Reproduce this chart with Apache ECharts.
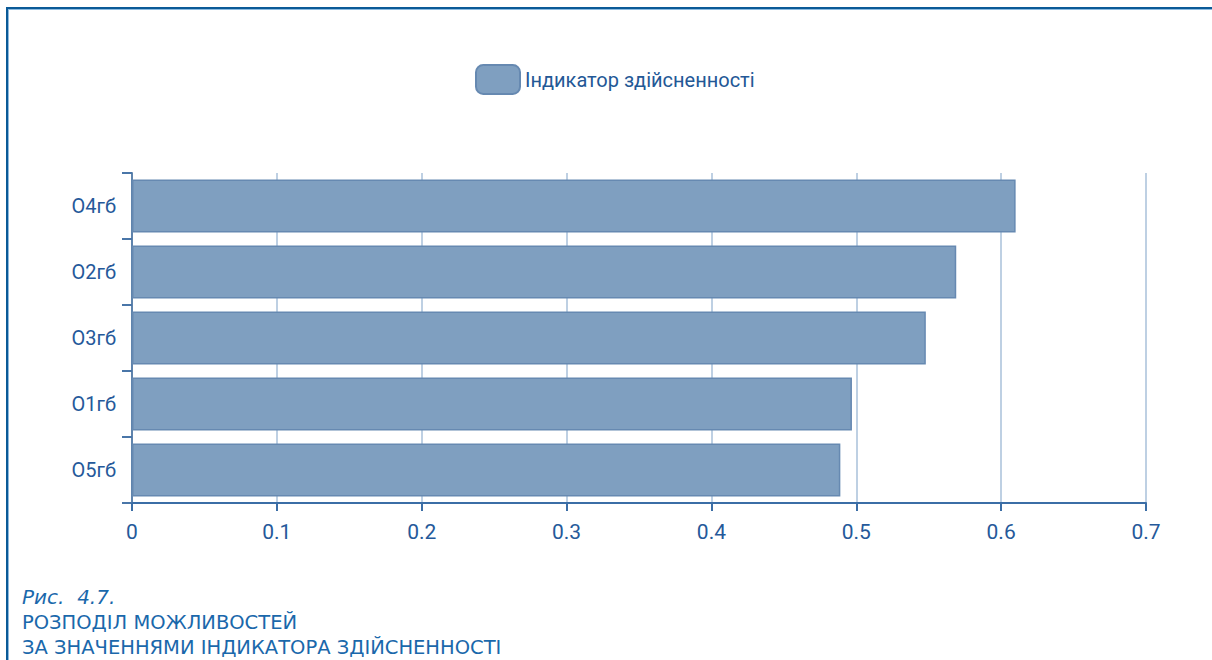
<!DOCTYPE html>
<html>
<head>
<meta charset="utf-8">
<script src="https://cdn.jsdelivr.net/npm/echarts@6/dist/echarts.min.js"></script>
<style>
	html, body { margin: 0; padding: 0; background: #fff; }
	#chart { width: 1212px; height: 660px; }
</style>
</head>
<body>
<div id="chart"></div>
<script>
	// дані
	var categories = ['O4гб', 'O2гб', 'O3гб', 'O1гб', 'O5гб'];
	var values = [0.61, 0.569, 0.548, 0.497, 0.489];
	var seriesName = 'Індикатор здійсненності';
	var xTicks = [0, 0.7, 0.1]; // min, max, interval
	var captionLines = ['Рис.  4.7.', 'РОЗПОДІЛ МОЖЛИВОСТЕЙ', 'ЗА ЗНАЧЕННЯМИ ІНДИКАТОРА ЗДІЙСНЕННОСТІ'];

	var labelFont = 'Roboto, "Liberation Sans", Arial, sans-serif';
	var capFont = '"DejaVu Sans", sans-serif';
	var blue = '#25599a';

	function captionText(str, y, font) {
		return {
			type: 'text',
			x: 22,
			y: y,
			style: { text: str, font: font, fill: '#1a68ab', verticalAlign: 'middle', lineHeight: 22 }
		};
	}

	var option = {
		animation: false,
		backgroundColor: '#fff',
		legend: {
			data: [seriesName],
			left: 470,
			top: 59,
			itemWidth: 44,
			itemHeight: 29,
			itemGap: 6,
			icon: 'roundRect',
			textStyle: {
				fontFamily: labelFont,
				fontSize: 20,
				color: '#235896'
			}
		},
		grid: {
			left: 132,
			right: 66,
			top: 173,
			bottom: 157,
			containLabel: false
		},
		xAxis: {
			type: 'value',
			min: xTicks[0],
			max: xTicks[1],
			interval: xTicks[2],
			axisLine: { show: true, lineStyle: { color: '#3b6ea6', width: 2 } },
			axisTick: { show: true, length: 8, lineStyle: { color: '#3b6ea6', width: 2 } },
			axisLabel: {
				margin: 18,
				fontFamily: labelFont,
				fontSize: 21,
				color: blue
			},
			splitLine: { show: true, lineStyle: { color: '#a9c0da', width: 1.5 } }
		},
		yAxis: {
			type: 'category',
			inverse: true,
			data: categories,
			axisLine: { show: true, lineStyle: { color: '#5f84ad', width: 2 } },
			axisTick: { show: true, length: 10, lineStyle: { color: '#4a76a8', width: 2 } },
			axisLabel: {
				margin: 16,
				fontFamily: labelFont,
				fontSize: 20,
				color: blue
			}
		},
		series: [{
			name: seriesName,
			type: 'bar',
			data: values,
			barCategoryGap: '20%',
			itemStyle: {
				color: '#7f9fc0',
				borderColor: '#6689b1',
				borderWidth: 1.5
			}
		}],
		graphic: [
			// рамка
			{ type: 'rect', shape: { x: 6, y: 7, width: 1220, height: 2 }, style: { fill: '#0b5a97' } },
			{ type: 'rect', shape: { x: 8, y: 9, width: 1220, height: 1 }, style: { fill: '#8dbbe0' } },
			{ type: 'rect', shape: { x: 6, y: 7, width: 2, height: 660 }, style: { fill: '#0b5a97' } },
			{ type: 'rect', shape: { x: 8, y: 10, width: 1, height: 660 }, style: { fill: '#8dbbe0' } },
			// підпис
			captionText(captionLines[0], 597, 'italic 20px ' + capFont),
			captionText(captionLines[1], 622, '19.5px ' + capFont),
			captionText(captionLines[2], 647, '19.5px ' + capFont)
		]
	};

	echarts.init(document.getElementById('chart'), null, { renderer: 'svg' }).setOption(option);
</script>
</body>
</html>
